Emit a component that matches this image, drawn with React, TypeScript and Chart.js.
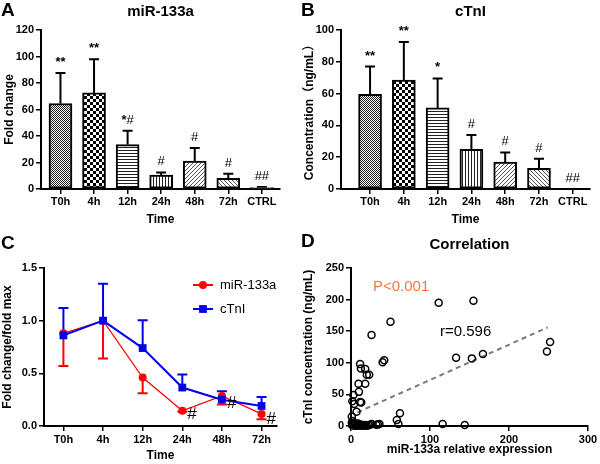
import React, { useEffect, useRef } from 'react';
import { Chart, registerables } from 'chart.js';

Chart.register(...registerables);

const FONT = "'Liberation Sans', Arial, 'Noto Sans CJK SC', sans-serif";

// ---------- Data ----------
const timeLabels = ['T0h', '4h', '12h', '24h', '48h', '72h', 'CTRL'];
const mirFold = [64.5, 72.5, 33.5, 10.5, 21, 8, 1];
const mirFoldSD = [23, 25.5, 10.5, 2, 10, 3.5, 0.5];
const mirMarks = ['**', '**', '*#', '#', '#', '#', '##'];

const ctniConc = [59.5, 68.5, 51, 25, 17, 13, 0];
const ctniConcSD = [17.5, 24, 18.5, 9, 6, 6, 0];
const ctniMarks = ['**', '**', '*', '#', '#', '#', '##'];

const lineLabels = ['T0h', '4h', '12h', '24h', '48h', '72h'];
const mirNorm = [0.88, 1.0, 0.46, 0.145, 0.285, 0.115];
const mirNormSD = [0.31, 0.36, 0.15, 0.01, 0.08, 0.05];
const ctniNorm = [0.86, 1.0, 0.74, 0.365, 0.25, 0.19];
const ctniNormSD = [0.26, 0.35, 0.265, 0.125, 0.08, 0.085];
const lineMarks = ['', '', '', '#', '#', '#'];

const corrX = [111, 155, 50, 26, 40, 42, 133, 153, 167, 248, 252, 11.5, 12.5, 18, 20, 23, 18, 9.5, 10, 11.5, 13, 3, 1.7, 4, 7, 1, 62, 58, 60, 116, 144,
  1.5, 3, 4.5, 6, 7.5, 9, 10.5, 12, 13.5, 15, 16.5, 18, 20, 22, 24, 26, 32, 34, 1, 2, 5, 9, 36];
const corrY = [195, 198, 165, 144, 101, 104, 108, 107, 114, 118, 133, 98, 91, 90, 81, 81, 67, 67, 54, 38, 37, 49, 39, 35, 22.6, 15, 20, 9.5, 3, 3, 1.5,
  1, 2, 0.5, 1.5, 0.5, 2, 1, 0.5, 2, 1, 0.5, 1.5, 0.5, 1, 2, 3, 2, 2.5, 5, 8, 4, 4, 3];
const trendX = [8, 249];
const trendY = [21.5, 156];

// ---------- Helpers ----------
function makePattern(kind: string): CanvasPattern | string {
  const c = document.createElement('canvas');
  const g = c.getContext('2d') as CanvasRenderingContext2D;
  const set = (w: number, h: number) => {
    c.width = w; c.height = h;
    g.fillStyle = '#fff'; g.fillRect(0, 0, w, h); g.fillStyle = '#000';
  };
  switch (kind) {
    case 'fine': set(2, 2); g.fillStyle = '#222'; g.fillRect(0, 0, 1, 1); g.fillRect(1, 1, 1, 1); break;
    case 'checker': set(6, 6); g.fillRect(0, 0, 3, 3); g.fillRect(3, 3, 3, 3); break;
    case 'hlines': set(1, 3); g.fillStyle = '#222'; g.fillRect(0, 0, 1, 1); break;
    case 'vlines': set(3, 1); g.fillStyle = '#222'; g.fillRect(0, 0, 1, 1); break;
    case 'diagUp': set(4, 4); g.fillStyle = '#555'; for (let i = 0; i < 4; i++) g.fillRect(3 - i, i, 1, 1); break;
    case 'diagDown': set(4, 4); g.fillStyle = '#555'; for (let i = 0; i < 4; i++) g.fillRect(i, i, 1, 1); break;
    default: return '#fff';
  }
  return g.createPattern(c, 'repeat') || '#fff';
}
const PATTERN_KINDS = ['fine', 'checker', 'hlines', 'vlines', 'diagUp', 'diagDown', 'none'];

const errorBars = {
  id: 'errorBars',
  beforeDatasetsDraw(chart: any) {
    const { ctx } = chart;
    const ys = chart.scales.y;
    chart.data.datasets.forEach((ds: any, di: number) => {
      if (!ds.errSD) return;
      const meta = chart.getDatasetMeta(di);
      ctx.save();
      ctx.strokeStyle = ds.errColor || '#000';
      ctx.lineWidth = ds.errWidth || 2;
      meta.data.forEach((el: any, i: number) => {
        const sd = ds.errSD[i];
        if (!sd) return;
        const v = ds.data[i].y + (ds.errDir === 'down' ? -sd : sd);
        const y1 = ys.getPixelForValue(v);
        const half = (ds.errCap || 10) / 2;
        ctx.beginPath();
        ctx.moveTo(el.x, el.y);
        ctx.lineTo(el.x, y1);
        ctx.moveTo(el.x - half, y1);
        ctx.lineTo(el.x + half, y1);
        ctx.stroke();
      });
      ctx.restore();
    });
  },
};

// draws a mark string: '*' in bold, '#' in regular weight
function drawMark(ctx: CanvasRenderingContext2D, text: string, cx: number, y: number, size: number, align: 'center' | 'left') {
  const fontFor = (ch: string) => (ch === '*' ? `bold ${size}px ${FONT}` : `${size}px ${FONT}`);
  let total = 0;
  const widths = text.split('').map((ch) => { ctx.font = fontFor(ch); const w = ctx.measureText(ch).width; total += w; return w; });
  let x = align === 'center' ? cx - total / 2 : cx;
  ctx.textAlign = 'left';
  text.split('').forEach((ch, i) => { ctx.font = fontFor(ch); ctx.fillText(ch, x, y); x += widths[i]; });
}

const markLabels = {
  id: 'markLabels',
  afterDatasetsDraw(chart: any) {
    const { ctx } = chart;
    const ys = chart.scales.y;
    chart.data.datasets.forEach((ds: any, di: number) => {
      if (!ds.marks) return;
      const meta = chart.getDatasetMeta(di);
      ctx.save();
      ctx.fillStyle = '#000';
      meta.data.forEach((el: any, i: number) => {
        const m = ds.marks[i];
        if (!m) return;
        const sd = ds.errSD ? ds.errSD[i] || 0 : 0;
        if (ds.markMode === 'above') {
          const y = ys.getPixelForValue(ds.data[i].y + sd) - 7;
          ctx.textBaseline = 'alphabetic';
          drawMark(ctx, m, el.x, y, ds.markSize, 'center');
        } else {
          const low = ys.getPixelForValue(ds.data[i].y - sd);
          ctx.textBaseline = 'middle';
          drawMark(ctx, m, el.x + 5, (el.y + low) / 2 + 3, ds.markSize, 'left');
        }
      });
      ctx.restore();
    });
  },
};

const lineLegend = {
  id: 'lineLegend',
  afterDraw(chart: any, _a: any, opts: any) {
    if (!opts || !opts.show) return;
    const { ctx } = chart;
    chart.data.datasets.forEach((ds: any, i: number) => {
      const y = opts.y + i * opts.dy;
      ctx.save();
      ctx.strokeStyle = ds.borderColor;
      ctx.lineWidth = 2;
      ctx.beginPath();
      ctx.moveTo(opts.x, y);
      ctx.lineTo(opts.x + opts.len, y);
      ctx.stroke();
      ctx.fillStyle = ds.borderColor;
      const cx = opts.x + opts.len / 2;
      if (ds.pointStyle === 'rect') {
        const s = ds.pointRadius * Math.SQRT1_2;
        ctx.fillRect(cx - s, y - s, 2 * s, 2 * s);
      } else {
        ctx.beginPath();
        ctx.arc(cx, y, ds.pointRadius, 0, Math.PI * 2);
        ctx.fill();
      }
      ctx.fillStyle = '#000';
      ctx.font = opts.font;
      ctx.textAlign = 'left';
      ctx.textBaseline = 'middle';
      ctx.fillText(ds.label, opts.x + opts.len + 7, y);
      ctx.restore();
    });
  },
};

const panelText = {
  id: 'panelText',
  afterDraw(chart: any, _a: any, opts: any) {
    const { ctx, chartArea } = chart;
    ctx.save();
    ctx.fillStyle = '#000';
    ctx.textBaseline = 'alphabetic';
    ctx.textAlign = 'left';
    ctx.font = `bold 19px ${FONT}`;
    ctx.fillText(opts.letter, 1, opts.letterY);
    if (opts.title) {
      ctx.font = `bold 15px ${FONT}`;
      ctx.textAlign = 'center';
      ctx.fillText(opts.title, (chartArea.left + chartArea.right) / 2 + (opts.titleDx || 0), opts.titleY);
    }
    (opts.notes || []).forEach((n: any) => {
      ctx.font = n.font;
      ctx.fillStyle = n.color;
      ctx.textAlign = 'left';
      ctx.fillText(n.text, chartArea.left + n.dx, chartArea.top + n.dy);
    });
    ctx.restore();
  },
};

const tickFont = { family: FONT, size: 11, weight: 'bold' as const };
const axTitleFont = { family: FONT, size: 12, weight: 'bold' as const };

function axisBase(sizeKey: 'width' | 'height', size: number) {
  return {
    offset: false,
    grid: { display: true, offset: false, drawOnChartArea: false, drawTicks: true, tickLength: 5, color: '#000', lineWidth: 1.5 },
    border: { display: true, color: '#000', width: 2 },
    afterFit: (s: any) => { s[sizeKey] = size; },
  };
}

function barConfig(p: any): any {
  const patterns = PATTERN_KINDS.map(makePattern);
  return {
    type: 'bar',
    data: {
      datasets: [{
        data: p.means.map((y: number, i: number) => ({ x: i, y })),
        backgroundColor: patterns,
        borderColor: '#000',
        borderWidth: 2,
        borderSkipped: false,
        barThickness: 23,
        clip: false,
        errSD: p.sds, errDir: 'up', errColor: '#000', errCap: 10, errWidth: 2,
        marks: p.marks, markMode: 'above', markSize: 13,
      }],
    },
    options: {
      responsive: false,
      animation: false,
      events: [],
      layout: { padding: { left: 0, right: p.right, top: 30, bottom: 0 } },
      plugins: {
        legend: { display: false },
        tooltip: { enabled: false },
        panelText: { letter: p.letter, letterY: 16, title: p.title, titleY: 16, titleDx: p.titleDx || 0 },
      },
      scales: {
        x: {
          ...axisBase('height', 43),
          type: 'linear',
          min: p.xMin,
          max: p.xMax,
          afterBuildTicks: (s: any) => { s.ticks = timeLabels.map((_, i) => ({ value: i })); },
          ticks: { callback: (v: any) => timeLabels[v] ?? '', font: tickFont, color: '#000', padding: 1, autoSkip: false, maxRotation: 0 },
          title: { display: true, text: 'Time', font: axTitleFont, color: '#000', padding: { top: 0, bottom: 5 } },
        },
        y: {
          ...axisBase('width', 41),
          min: 0,
          max: p.yMax,
          ticks: { stepSize: p.yStep, font: tickFont, color: '#000', padding: 2 },
          title: { display: true, text: p.yTitle, font: axTitleFont, color: '#000', padding: { top: 2, bottom: 0 } },
        },
      },
    },
    plugins: [errorBars, markLabels, panelText],
  };
}

function lineConfig(): any {
  return {
    type: 'line',
    data: {
      datasets: [
        {
          label: 'miR-133a',
          data: mirNorm.map((y, i) => ({ x: i, y })),
          borderColor: '#ff0000', backgroundColor: '#ff0000',
          borderWidth: 1.2, pointStyle: 'circle', pointRadius: 4, pointBorderWidth: 0,
          tension: 0, clip: false, order: 1,
          errSD: mirNormSD, errDir: 'down', errColor: '#ff0000', errCap: 10, errWidth: 2,
          marks: lineMarks, markMode: 'right', markSize: 17,
        },
        {
          label: 'cTnI',
          data: ctniNorm.map((y, i) => ({ x: i, y })),
          borderColor: '#0000ee', backgroundColor: '#0000ee',
          borderWidth: 2, pointStyle: 'rect', pointRadius: 5.5, pointBorderWidth: 0,
          tension: 0, clip: false, order: 0,
          errSD: ctniNormSD, errDir: 'up', errColor: '#0000ee', errCap: 10, errWidth: 2,
        },
      ],
    },
    options: {
      responsive: false,
      animation: false,
      events: [],
      layout: { padding: { left: 0, right: 23, top: 36, bottom: 0 } },
      plugins: {
        legend: { display: false },
        tooltip: { enabled: false },
        panelText: { letter: 'C', letterY: 17 },
        lineLegend: { show: true, x: 193, y: 53, dy: 24, len: 20, font: `13px ${FONT}` },
      },
      scales: {
        x: {
          ...axisBase('height', 38),
          type: 'linear',
          min: -0.49,
          max: 5.39,
          afterBuildTicks: (s: any) => { s.ticks = lineLabels.map((_, i) => ({ value: i })); },
          ticks: { callback: (v: any) => lineLabels[v] ?? '', font: tickFont, color: '#000', padding: 2, autoSkip: false, maxRotation: 0 },
          title: { display: true, text: 'Time', font: axTitleFont, color: '#000', padding: { top: 0, bottom: 1 } },
        },
        y: {
          ...axisBase('width', 44),
          min: 0,
          max: 1.5,
          ticks: { stepSize: 0.5, callback: (v: any) => Number(v).toFixed(1), font: tickFont, color: '#000', padding: 2 },
          title: { display: true, text: 'Fold change/fold max', font: axTitleFont, color: '#000', padding: { top: 0, bottom: 0 } },
        },
      },
    },
    plugins: [errorBars, markLabels, lineLegend, panelText],
  };
}

function scatterConfig(): any {
  return {
    type: 'scatter',
    data: {
      datasets: [
        {
          data: corrX.map((x, i) => ({ x, y: corrY[i] })),
          pointRadius: 3.5, pointBorderWidth: 1.5,
          pointBorderColor: '#000', pointBackgroundColor: 'rgba(255,255,255,0)',
          borderColor: '#000', backgroundColor: 'rgba(255,255,255,0)',
          clip: false,
        },
        {
          type: 'line',
          data: trendX.map((x, i) => ({ x, y: trendY[i] })),
          borderColor: '#7a7a7a', borderWidth: 2, borderDash: [5, 4],
          pointRadius: 0, showLine: true, fill: false, clip: false,
        },
      ],
    },
    options: {
      responsive: false,
      animation: false,
      events: [],
      layout: { padding: { left: 0, right: 12, top: 36, bottom: 0 } },
      plugins: {
        legend: { display: false },
        tooltip: { enabled: false },
        panelText: {
          letter: 'D', letterY: 15, title: 'Correlation', titleY: 17,
          notes: [
            { text: 'P<0.001', dx: 22, dy: 23, color: '#f47a3a', font: `15px ${FONT}` },
            { text: 'r=0.596', dx: 89, dy: 68, color: '#000', font: `15px ${FONT}` },
          ],
        },
      },
      scales: {
        x: {
          ...axisBase('height', 38),
          type: 'linear',
          min: 0,
          max: 300,
          ticks: { stepSize: 100, font: tickFont, color: '#000', padding: 2 },
          title: { display: true, text: 'miR-133a relative expression', font: axTitleFont, color: '#000', padding: { top: 0, bottom: 7 } },
        },
        y: {
          ...axisBase('width', 51),
          min: 0,
          max: 250,
          ticks: { stepSize: 50, font: tickFont, color: '#000', padding: 2 },
          title: { display: true, text: 'cTnI concentration (ng/mL)', font: axTitleFont, color: '#000', padding: { top: 1, bottom: 0 } },
        },
      },
    },
    plugins: [panelText],
  };
}

export default function App() {
  const aRef = useRef<HTMLCanvasElement>(null);
  const bRef = useRef<HTMLCanvasElement>(null);
  const cRef = useRef<HTMLCanvasElement>(null);
  const dRef = useRef<HTMLCanvasElement>(null);

  useEffect(() => {
    Chart.defaults.font.family = FONT;
    Chart.defaults.color = '#000';
    const charts: Chart[] = [];
    charts.push(new Chart(aRef.current as HTMLCanvasElement, barConfig({
      means: mirFold, sds: mirFoldSD, marks: mirMarks, yMax: 120, yStep: 20,
      yTitle: 'Fold change', title: 'miR-133a', letter: 'A', xMin: -0.58, xMax: 6.54, right: 20,
    })));
    charts.push(new Chart(bRef.current as HTMLCanvasElement, barConfig({
      means: ctniConc, sds: ctniConcSD, marks: ctniMarks, yMax: 100, yStep: 20,
      yTitle: 'Concentration（ng/mL）', title: 'cTnI', letter: 'B', xMin: -0.86, xMax: 6.51, right: 10, titleDx: 5,
    })));
    charts.push(new Chart(cRef.current as HTMLCanvasElement, lineConfig()));
    charts.push(new Chart(dRef.current as HTMLCanvasElement, scatterConfig()));
    return () => charts.forEach((c) => c.destroy());
  }, []);

  const cs = (left: number, top: number): React.CSSProperties => ({ position: 'absolute', left, top, width: 300, height: 232 });
  return (
    <div style={{ position: 'absolute', left: 0, top: 0, width: 600, height: 464, background: '#fff' }}>
      <canvas ref={aRef} width={300} height={232} style={cs(0, 0)} />
      <canvas ref={bRef} width={300} height={232} style={cs(300, 0)} />
      <canvas ref={cRef} width={300} height={232} style={cs(0, 232)} />
      <canvas ref={dRef} width={300} height={232} style={cs(300, 232)} />
    </div>
  );
}
